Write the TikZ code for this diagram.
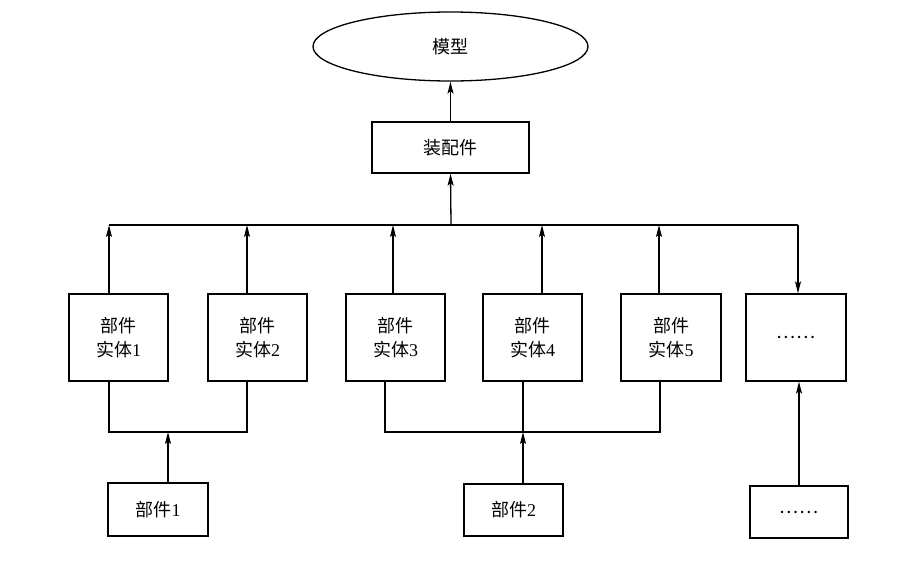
\documentclass[tikz,border=0pt]{standalone}
\usepackage{fontspec}
\setmainfont{Liberation Serif}
\newfontfamily\cjk{Noto Sans CJK SC}
\usetikzlibrary{shapes.geometric,arrows.meta}
\begin{document}
\begin{tikzpicture}[x=1pt,y=-1pt,
  line width=1.3pt,
  every node/.style={font=\fontsize{18}{24}\selectfont, align=center, inner sep=0pt},
  boxnode/.style={draw, rectangle, minimum width=99pt, minimum height=87pt},
  smallbox/.style={draw, rectangle, minimum width=100pt, minimum height=53pt},
  arr/.style={-{Stealth[length=12pt,width=6pt,inset=2.5pt]}}]
\useasboundingbox (0,0) rectangle (910,571);
% top
\node[draw, ellipse, minimum width=275pt, minimum height=69pt] (model) at (450.5,46.5) {\cjk 模型};
\node[draw, rectangle, minimum width=157pt, minimum height=51pt] (asm) at (450.5,147.5) {\cjk 装配件};
% entities
\node[boxnode] (e1) at (118.5,337.5) {{\cjk 部件}\\{\cjk 实体}1};
\node[boxnode] (e2) at (257.5,337.5) {{\cjk 部件}\\{\cjk 实体}2};
\node[boxnode] (e3) at (395.5,337.5) {{\cjk 部件}\\{\cjk 实体}3};
\node[boxnode] (e4) at (532.5,337.5) {{\cjk 部件}\\{\cjk 实体}4};
\node[boxnode, minimum width=100pt] (e5) at (671,337.5) {{\cjk 部件}\\{\cjk 实体}5};
\node[boxnode, minimum width=100pt] (e6) at (796,337.5) {\cjk ……};
% bottom parts
\node[smallbox] (b1) at (158,509.5) {{\cjk 部件}1};
\node[smallbox, minimum width=99pt, minimum height=52pt] (b2) at (513.5,510) {{\cjk 部件}2};
\node[smallbox, minimum width=98pt, minimum height=52pt] (b3) at (799,512) {\cjk ……};
% bus coordinates
\coordinate (busL) at (109,225);
\coordinate (c2) at (247,225);
\coordinate (c3) at (393,225);
\coordinate (busM) at (451,225);
\coordinate (c4) at (542,225);
\coordinate (c5) at (659,225);
\coordinate (busR) at (798,225);
% lower junctions
\coordinate (j1a) at (109,432);
\coordinate (j1b) at (247,432);
\coordinate (jm1) at (168,432);
\coordinate (j2a) at (385,432);
\coordinate (j2b) at (660,432);
\coordinate (jm2) at (523,432);
% connectors top
\draw[arr] (asm.north) -- (model.south);
\draw[arr] (busM) -- (asm.south);
\draw (busL) -- (busR);
\draw[arr] (e1.north -| busL) -- (busL);
\draw[arr] (e2.north -| c2) -- (c2);
\draw[arr] (e3.north -| c3) -- (c3);
\draw[arr] (e4.north -| c4) -- (c4);
\draw[arr] (e5.north -| c5) -- (c5);
\draw[arr] (busR) -- (e6.north -| busR);
% connectors bottom
\draw (e1.south -| j1a) -- (j1a) -- (j1b) -- (e2.south -| j1b);
\draw[arr] (b1.north -| jm1) -- (jm1);
\draw (e3.south -| j2a) -- (j2a) -- (j2b) -- (e5.south -| j2b);
\draw (e4.south -| jm2) -- (jm2);
\draw[arr] (b2.north -| jm2) -- (jm2);
\draw[arr] (b3.north) -- (e6.south -| b3.north);
\end{tikzpicture}
\end{document}
